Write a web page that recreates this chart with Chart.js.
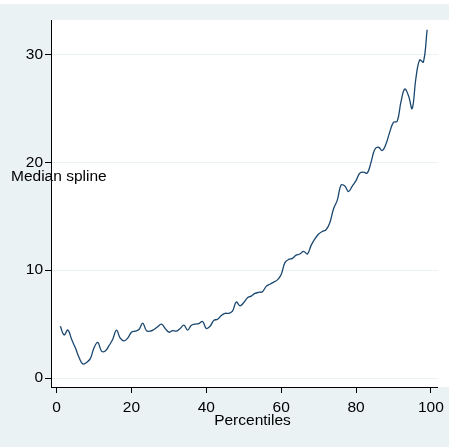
<!DOCTYPE html>
<html>
<head>
<meta charset="utf-8">
<script src="https://cdn.jsdelivr.net/npm/chart.js@4.4.1/dist/chart.umd.min.js"></script>
<style>
  html, body { margin: 0; padding: 0; background: #ffffff; }
  #wrap { width: 449px; height: 447px; }
</style>
</head>
<body>
<div id="wrap"><canvas id="chart" width="449" height="447"></canvas></div>
<script>
// percentiles on the x axis
const percentiles = [];
for (let p = 1; p <= 99; p++) percentiles.push(p);

// median spline values
const medianSpline = [
    4.8, 4.0, 4.45, 3.6, 2.8, 1.9, 1.3, 1.45, 1.8, 2.8,
    3.3, 2.5, 2.5, 3.0, 3.6, 4.45, 3.7, 3.45, 3.7, 4.25,
    4.35, 4.5, 5.1, 4.4, 4.35, 4.5, 4.75, 5.0, 4.6, 4.25,
    4.4, 4.35, 4.6, 4.9, 4.45, 4.9, 5.0, 5.05, 5.25, 4.6,
    4.8, 5.35, 5.45, 5.8, 6.0, 6.0, 6.2, 7.05, 6.7, 7.0,
    7.45, 7.6, 7.85, 7.95, 8.0, 8.5, 8.7, 8.9, 9.1, 9.6,
    10.7, 11.0, 11.1, 11.4, 11.5, 11.75, 11.5, 12.3, 12.9, 13.35,
    13.6, 13.75, 14.4, 15.7, 16.5, 17.9, 17.8, 17.3, 17.8, 18.3,
    19.0, 19.1, 19.0, 20.0, 21.2, 21.4, 21.1, 21.7, 22.8, 23.7,
    23.8, 25.6, 26.8, 26.2, 25.0, 27.8, 29.5, 29.3, 32.3
];

const xTicks = [0, 20, 40, 60, 80, 100];
const yTicks = [0, 10, 20, 30];
const xTitle = 'Percentiles';
const yTitle = 'Median spline';

const FONT = '"Liberation Sans", Arial, Helvetica, sans-serif';
const BG = '#eaf2f3';

// fond grafik gaya Stata
const backgroundPlugin = {
    id: 'stataBackground',
    beforeDraw(chart) {
        const { ctx, chartArea, width, height } = chart;
        ctx.save();
        ctx.fillStyle = '#ffffff';
        ctx.fillRect(0, 0, width, height);
        ctx.fillStyle = BG;
        ctx.fillRect(0, 4, width, height - 4);
        ctx.fillStyle = '#ffffff';
        ctx.fillRect(chartArea.left, chartArea.top, width - chartArea.left, chartArea.bottom - chartArea.top);
        ctx.restore();
    },
    afterDraw(chart) {
        const { ctx, chartArea } = chart;
        ctx.save();
        ctx.fillStyle = '#000000';
        ctx.font = '15.5px ' + FONT;
        ctx.textBaseline = 'middle';
        ctx.textAlign = 'left';
        ctx.fillText(yTitle, 11, 177);
        ctx.textAlign = 'center';
        ctx.fillText(xTitle, 252.5, 421);
        ctx.restore();
    }
};

new Chart(document.getElementById('chart'), {
    type: 'line',
    data: {
        datasets: [{
            label: yTitle,
            data: percentiles.map((p, i) => ({ x: p, y: medianSpline[i] })),
            borderColor: '#1a476f',
            borderWidth: 1.3,
            pointRadius: 0,
            tension: 0.4,
            fill: false
        }]
    },
    options: {
        responsive: false,
        animation: false,
        layout: { padding: { top: 20, right: 10, left: 0, bottom: 0 } },
        plugins: {
            legend: { display: false },
            tooltip: { enabled: false }
        },
        scales: {
            x: {
                type: 'linear',
                min: -1.5,
                max: 101.9,
                afterBuildTicks: (scale) => { scale.ticks = xTicks.map(v => ({ value: v })); },
                afterFit: (scale) => { scale.height = 60; },
                grid: {
                    drawOnChartArea: false,
                    drawTicks: true,
                    tickLength: 6,
                    tickColor: '#000000'
                },
                border: { display: true, color: '#000000', width: 1 },
                ticks: {
                    autoSkip: false,
                    maxRotation: 0,
                    padding: 5,
                    color: '#000000',
                    font: { family: FONT, size: 15.5 }
                }
            },
            y: {
                type: 'linear',
                min: -0.83,
                max: 33.2,
                afterBuildTicks: (scale) => { scale.ticks = yTicks.map(v => ({ value: v })); },
                afterFit: (scale) => { scale.width = 51; },
                grid: {
                    color: BG,
                    lineWidth: 1,
                    drawTicks: true,
                    tickLength: 6,
                    tickColor: '#000000'
                },
                border: { display: true, color: '#000000', width: 1 },
                ticks: {
                    autoSkip: false,
                    padding: 2,
                    color: '#000000',
                    font: { family: FONT, size: 15.5 }
                }
            }
        }
    },
    plugins: [backgroundPlugin]
});
</script>
</body>
</html>
